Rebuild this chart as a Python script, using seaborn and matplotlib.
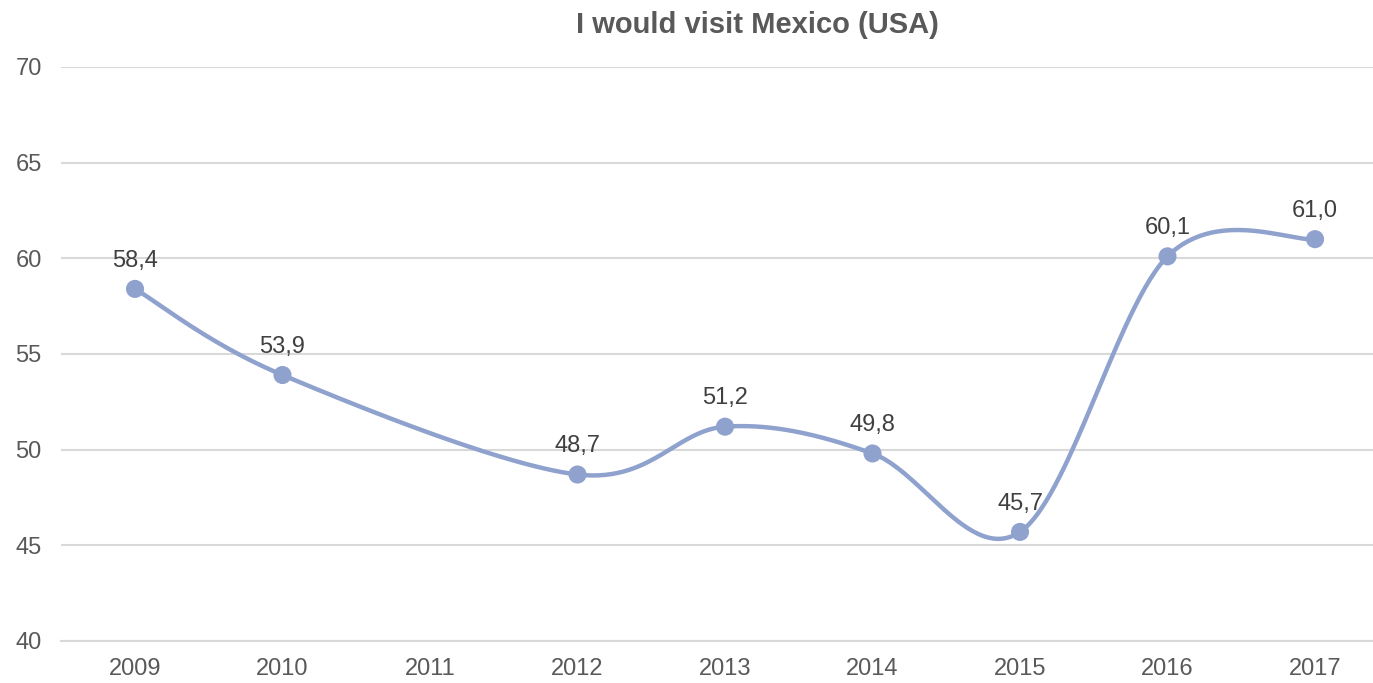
import numpy as np
import pandas as pd
import matplotlib
matplotlib.use("Agg")
import matplotlib.pyplot as plt
import seaborn as sns

# Survey series: share answering "I would visit Mexico" (USA)
years = ["2009", "2010", "2011", "2012", "2013", "2014", "2015", "2016", "2017"]
point_years = ["2009", "2010", "2012", "2013", "2014", "2015", "2016", "2017"]
values = [58.4, 53.9, 48.7, 51.2, 49.8, 45.7, 60.1, 61.0]
y_ticks = [40, 45, 50, 55, 60, 65, 70]

line_color = "#8FA2CE"
text_color = "#595959"
label_color = "#404040"
grid_color = "#D9D9D9"

sns.set_theme(style="white")
plt.rcParams["font.family"] = ["Liberation Sans", "DejaVu Sans"]

fig = plt.figure(figsize=(13.73, 6.83), dpi=100)
ax = fig.add_axes([0.0446, 0.0615, 0.9669, 0.8405])

xpos = np.array([years.index(y) for y in point_years], dtype=float)
yval = np.array(values, dtype=float)

# Smoothed curve: cubic Bezier segments with Catmull-Rom style control points
def smooth_curve(x, y, n=60):
    px = np.concatenate([[x[0]], x, [x[-1]]])
    py = np.concatenate([[y[0]], y, [y[-1]]])
    xs, ys = [], []
    t = np.linspace(0, 1, n)
    for i in range(1, len(px) - 2):
        p0 = np.array([px[i], py[i]])
        p3 = np.array([px[i + 1], py[i + 1]])
        c1 = p0 + (np.array([px[i + 1], py[i + 1]]) - np.array([px[i - 1], py[i - 1]])) / 6
        c2 = p3 - (np.array([px[i + 2], py[i + 2]]) - np.array([px[i], py[i]])) / 6
        b = ((1 - t) ** 3)[:, None] * p0 + (3 * (1 - t) ** 2 * t)[:, None] * c1 \
            + (3 * (1 - t) * t ** 2)[:, None] * c2 + (t ** 3)[:, None] * p3
        xs.append(b[:, 0]); ys.append(b[:, 1])
    return np.concatenate(xs), np.concatenate(ys)

# scale to screen-like units so the smoothing behaves like a screen-space spline
sx = 147.5
sy = 19.13
cx, cy = smooth_curve(xpos * sx, yval * sy)
curve = pd.DataFrame({"x": cx / sx, "y": cy / sy})
pts = pd.DataFrame({"x": xpos, "y": yval})

sns.lineplot(data=curve, x="x", y="y", sort=False, color=line_color, linewidth=3.2,
             ax=ax, zorder=3)
sns.scatterplot(data=pts, x="x", y="y", color=line_color, s=170, edgecolor="none",
                ax=ax, zorder=4)

for x, v in zip(xpos, yval):
    ax.annotate(f"{v:.1f}".replace(".", ","), (x, v), xytext=(0, 16),
                textcoords="offset points", ha="center", va="baseline",
                fontsize=17, color=label_color)

ax.set_xlim(-0.5, len(years) - 0.5)
ax.set_ylim(40, 70)
ax.set_yticks(y_ticks)
ax.set_yticklabels([str(t) for t in y_ticks])
ax.set_xticks(range(len(years)))
ax.set_xticklabels(years)
ax.set_xlabel("")
ax.set_ylabel("")

ax.yaxis.grid(True, color=grid_color, linewidth=1.5)
ax.xaxis.grid(False)
for s in ["top", "right", "left"]:
    ax.spines[s].set_visible(False)
ax.spines["bottom"].set_color(grid_color)
ax.spines["bottom"].set_linewidth(1.5)

ax.tick_params(axis="y", length=0, pad=14, labelsize=17, labelcolor=text_color)
ax.tick_params(axis="x", which="major", length=0, pad=12, labelsize=17, labelcolor=text_color)
ax.set_xticks(np.arange(-0.5, len(years), 1.0), minor=True)
ax.tick_params(axis="x", which="minor", length=7, width=1.5, color=grid_color, direction="out")

fig.text(0.5517, 0.9517, "I would visit Mexico (USA)", ha="center", va="baseline",
         fontsize=21, fontweight="bold", color=text_color)

fig.savefig("out.png", dpi=100)
